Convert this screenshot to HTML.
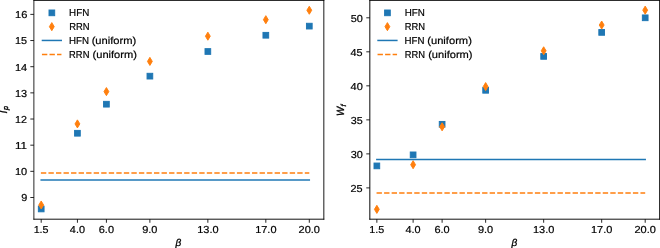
<!DOCTYPE html>
<html><head><meta charset="utf-8"><style>
html,body{margin:0;padding:0;background:#fff;width:660px;height:248px;overflow:hidden}
svg{display:block;will-change:transform}
text{text-rendering:geometricPrecision;font-family:"Liberation Sans",sans-serif;font-size:10.1px;fill:#000;stroke:#000;stroke-width:0.2px}
.s{fill:#1f77b4;stroke:#1f77b4;stroke-width:0.95}
.d{fill:#ff7f0e;stroke:#ff7f0e;stroke-width:0.95;stroke-linejoin:miter;stroke-miterlimit:10}
.lu{fill:none;stroke:#1f77b4;stroke-width:1.5;stroke-linecap:square}
.ld{fill:none;stroke:#ff7f0e;stroke-width:1.5;stroke-dasharray:5.37 2.17;stroke-linecap:butt}
.sp{fill:none;stroke:#000;stroke-width:0.85}
.tk{fill:none;stroke:#000;stroke-width:0.85}
.it{font-style:italic;stroke-width:0.3px}
</style></head><body>
<svg width="660" height="248" viewBox="0 0 660 248">
<rect x="38.35" y="206.10" width="5.70" height="5.70" class="s"/>
<rect x="74.58" y="130.40" width="5.70" height="5.70" class="s"/>
<rect x="103.56" y="101.35" width="5.70" height="5.70" class="s"/>
<rect x="147.04" y="73.30" width="5.70" height="5.70" class="s"/>
<rect x="205.00" y="48.65" width="5.70" height="5.70" class="s"/>
<rect x="262.97" y="32.40" width="5.70" height="5.70" class="s"/>
<rect x="306.45" y="23.28" width="5.70" height="5.70" class="s"/>
<path d="M41.20 200.97L43.62 205.00L41.20 209.03L38.78 205.00Z" class="d"/>
<path d="M77.43 119.87L79.85 123.90L77.43 127.93L75.01 123.90Z" class="d"/>
<path d="M106.41 87.57L108.83 91.60L106.41 95.63L103.99 91.60Z" class="d"/>
<path d="M149.89 57.37L152.31 61.40L149.89 65.43L147.47 61.40Z" class="d"/>
<path d="M207.85 32.17L210.27 36.20L207.85 40.23L205.43 36.20Z" class="d"/>
<path d="M265.82 15.67L268.24 19.70L265.82 23.73L263.40 19.70Z" class="d"/>
<path d="M309.30 6.21L311.72 10.24L309.30 14.27L306.88 10.24Z" class="d"/>
<path d="M41.20 180.00H309.30" class="lu"/>
<path d="M40.90 173.10H309.30" class="ld"/>
<path d="M33.885 0V219.67" class="sp" style="stroke-width:0.85"/>
<path d="M323.835 0V219.67" class="sp" style="stroke-width:0.91"/>
<path d="M33.460 0.44H324.290" class="sp" style="stroke-width:0.88"/>
<path d="M33.460 219.2H324.290" class="sp" style="stroke-width:0.94"/>
<path d="M41.20 219.20V222.75" class="tk"/>
<text x="33.66" y="233.40" textLength="14.92" lengthAdjust="spacingAndGlyphs">1.5</text>
<path d="M77.43 219.20V222.75" class="tk"/>
<text x="69.86" y="233.40" textLength="15.13" lengthAdjust="spacingAndGlyphs">4.0</text>
<path d="M106.41 219.20V222.75" class="tk"/>
<text x="98.75" y="233.40" textLength="15.23" lengthAdjust="spacingAndGlyphs">6.0</text>
<path d="M149.89 219.20V222.75" class="tk"/>
<text x="142.20" y="233.40" textLength="15.26" lengthAdjust="spacingAndGlyphs">9.0</text>
<path d="M207.85 219.20V222.75" class="tk"/>
<text x="197.19" y="233.40" textLength="21.36" lengthAdjust="spacingAndGlyphs">13.0</text>
<path d="M265.82 219.20V222.75" class="tk"/>
<text x="255.16" y="233.40" textLength="21.36" lengthAdjust="spacingAndGlyphs">17.0</text>
<path d="M309.30 219.20V222.75" class="tk"/>
<text x="298.55" y="233.40" textLength="21.44" lengthAdjust="spacingAndGlyphs">20.0</text>
<path d="M33.88 197.50H30.33" class="tk"/>
<text x="21.21" y="201.35" textLength="6.06" lengthAdjust="spacingAndGlyphs">9</text>
<path d="M33.88 171.34H30.33" class="tk"/>
<text x="14.99" y="175.19" textLength="12.23" lengthAdjust="spacingAndGlyphs">10</text>
<path d="M33.88 145.18H30.33" class="tk"/>
<text x="15.00" y="149.03" textLength="12.06" lengthAdjust="spacingAndGlyphs">11</text>
<path d="M33.88 119.02H30.33" class="tk"/>
<text x="15.00" y="122.87" textLength="11.99" lengthAdjust="spacingAndGlyphs">12</text>
<path d="M33.88 92.86H30.33" class="tk"/>
<text x="14.99" y="96.71" textLength="12.14" lengthAdjust="spacingAndGlyphs">13</text>
<path d="M33.88 66.70H30.33" class="tk"/>
<text x="14.99" y="70.55" textLength="12.22" lengthAdjust="spacingAndGlyphs">14</text>
<path d="M33.88 40.54H30.33" class="tk"/>
<text x="15.00" y="44.39" textLength="12.03" lengthAdjust="spacingAndGlyphs">15</text>
<path d="M33.88 14.38H30.33" class="tk"/>
<text x="14.98" y="18.23" textLength="12.33" lengthAdjust="spacingAndGlyphs">16</text>
<rect x="49.00" y="10.00" width="5.70" height="5.70" class="s"/>
<path d="M51.80 22.62L54.22 26.65L51.80 30.68L49.38 26.65Z" class="d"/>
<path d="M41.70 40.45H62.00" class="lu" style="stroke-linecap:butt"/>
<path d="M41.95 54.4H61.45" class="ld"/>
<text x="69.10" y="16.00" textLength="20.15" lengthAdjust="spacingAndGlyphs">HFN</text>
<text x="69.13" y="30.00" textLength="20.34" lengthAdjust="spacingAndGlyphs">RRN</text>
<text x="69.00" y="43.90" textLength="19.94" lengthAdjust="spacingAndGlyphs">HFN</text>
<text x="91.66" y="43.90" textLength="44.63" lengthAdjust="spacingAndGlyphs">(uniform)</text>
<text x="69.12" y="57.70" textLength="20.29" lengthAdjust="spacingAndGlyphs">RRN</text>
<text x="92.56" y="57.70" textLength="44.38" lengthAdjust="spacingAndGlyphs">(uniform)</text>
<rect x="374.00" y="163.05" width="5.70" height="5.70" class="s"/>
<rect x="410.26" y="152.00" width="5.70" height="5.70" class="s"/>
<rect x="439.27" y="121.45" width="5.70" height="5.70" class="s"/>
<rect x="482.79" y="87.45" width="5.70" height="5.70" class="s"/>
<rect x="540.81" y="53.55" width="5.70" height="5.70" class="s"/>
<rect x="598.83" y="29.55" width="5.70" height="5.70" class="s"/>
<rect x="642.35" y="14.95" width="5.70" height="5.70" class="s"/>
<path d="M376.85 205.32L379.27 209.35L376.85 213.38L374.43 209.35Z" class="d"/>
<path d="M413.12 160.67L415.54 164.70L413.12 168.73L410.69 164.70Z" class="d"/>
<path d="M442.12 122.77L444.55 126.80L442.12 130.83L439.70 126.80Z" class="d"/>
<path d="M485.64 82.57L488.06 86.60L485.64 90.63L483.22 86.60Z" class="d"/>
<path d="M543.66 46.77L546.08 50.80L543.66 54.83L541.24 50.80Z" class="d"/>
<path d="M601.68 21.02L604.10 25.05L601.68 29.08L599.26 25.05Z" class="d"/>
<path d="M645.20 6.12L647.62 10.15L645.20 14.18L642.78 10.15Z" class="d"/>
<path d="M376.85 159.50H645.20" class="lu"/>
<path d="M376.55 192.90H645.20" class="ld"/>
<path d="M369.840 0V219.67" class="sp" style="stroke-width:0.98"/>
<path d="M659.650 0V219.67" class="sp" style="stroke-width:0.95"/>
<path d="M369.350 0.44H660.125" class="sp" style="stroke-width:0.88"/>
<path d="M369.350 219.2H660.125" class="sp" style="stroke-width:0.94"/>
<path d="M376.85 219.20V222.75" class="tk"/>
<text x="369.32" y="233.40" textLength="14.92" lengthAdjust="spacingAndGlyphs">1.5</text>
<path d="M413.12 219.20V222.75" class="tk"/>
<text x="405.55" y="233.40" textLength="15.13" lengthAdjust="spacingAndGlyphs">4.0</text>
<path d="M442.12 219.20V222.75" class="tk"/>
<text x="434.46" y="233.40" textLength="15.23" lengthAdjust="spacingAndGlyphs">6.0</text>
<path d="M485.64 219.20V222.75" class="tk"/>
<text x="477.95" y="233.40" textLength="15.26" lengthAdjust="spacingAndGlyphs">9.0</text>
<path d="M543.66 219.20V222.75" class="tk"/>
<text x="532.99" y="233.40" textLength="21.36" lengthAdjust="spacingAndGlyphs">13.0</text>
<path d="M601.68 219.20V222.75" class="tk"/>
<text x="591.01" y="233.40" textLength="21.36" lengthAdjust="spacingAndGlyphs">17.0</text>
<path d="M645.20 219.20V222.75" class="tk"/>
<text x="634.45" y="233.40" textLength="21.44" lengthAdjust="spacingAndGlyphs">20.0</text>
<path d="M369.84 187.90H366.29" class="tk"/>
<text x="350.51" y="191.75" textLength="12.12" lengthAdjust="spacingAndGlyphs">25</text>
<path d="M369.84 153.88H366.29" class="tk"/>
<text x="350.67" y="157.73" textLength="12.14" lengthAdjust="spacingAndGlyphs">30</text>
<path d="M369.84 119.86H366.29" class="tk"/>
<text x="350.68" y="123.71" textLength="11.95" lengthAdjust="spacingAndGlyphs">35</text>
<path d="M369.84 85.84H366.29" class="tk"/>
<text x="350.56" y="89.69" textLength="12.26" lengthAdjust="spacingAndGlyphs">40</text>
<path d="M369.84 51.82H366.29" class="tk"/>
<text x="350.56" y="55.67" textLength="12.07" lengthAdjust="spacingAndGlyphs">45</text>
<path d="M369.84 17.80H366.29" class="tk"/>
<text x="350.66" y="21.65" textLength="12.15" lengthAdjust="spacingAndGlyphs">50</text>
<rect x="384.60" y="10.00" width="5.70" height="5.70" class="s"/>
<path d="M387.40 22.62L389.82 26.65L387.40 30.68L384.98 26.65Z" class="d"/>
<path d="M377.30 40.45H397.60" class="lu" style="stroke-linecap:butt"/>
<path d="M377.55 54.4H397.05" class="ld"/>
<text x="404.70" y="16.00" textLength="20.15" lengthAdjust="spacingAndGlyphs">HFN</text>
<text x="404.73" y="30.00" textLength="20.34" lengthAdjust="spacingAndGlyphs">RRN</text>
<text x="404.60" y="43.90" textLength="19.94" lengthAdjust="spacingAndGlyphs">HFN</text>
<text x="427.26" y="43.90" textLength="44.63" lengthAdjust="spacingAndGlyphs">(uniform)</text>
<text x="404.72" y="57.70" textLength="20.29" lengthAdjust="spacingAndGlyphs">RRN</text>
<text x="428.16" y="57.70" textLength="44.38" lengthAdjust="spacingAndGlyphs">(uniform)</text>
<text class="it" transform="translate(6.9 113.55) rotate(-90)" style="font-size:10.5px">I</text>
<text class="it" transform="translate(8.3 110.1) rotate(-90)" style="font-size:7.35px;stroke-width:0.4px">p</text>
<text class="it" transform="translate(344.4 115.9) rotate(-90)" textLength="9.2" lengthAdjust="spacingAndGlyphs" style="font-size:10.5px">W</text>
<text class="it" transform="translate(346.4 106.6) rotate(-90)" style="font-size:7.35px">f</text>
<text class="it" x="178.4" y="246.2" text-anchor="middle">β</text>
<text class="it" x="514.5" y="246.2" text-anchor="middle">β</text>
</svg>
</body></html>
